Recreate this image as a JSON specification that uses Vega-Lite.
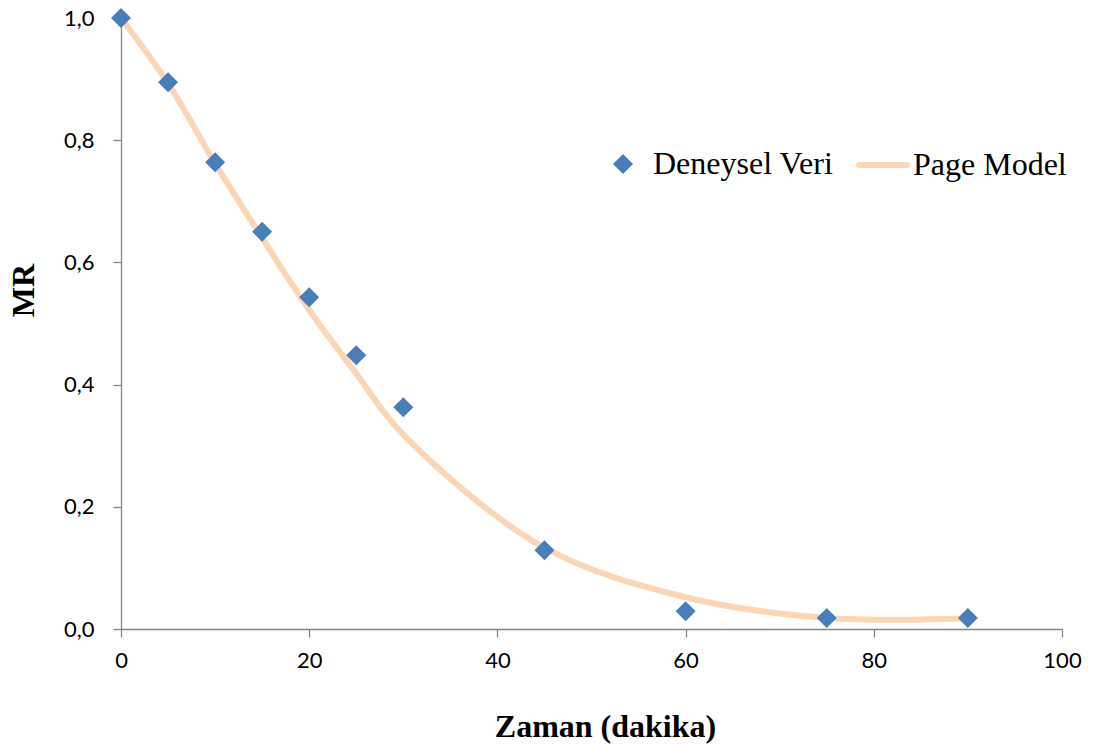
{
  "$schema": "https://vega.github.io/schema/vega-lite/v6.json",
  "width": 941,
  "height": 611,
  "autosize": {"type": "none"},
  "padding": {"left": 121, "top": 18, "right": 41, "bottom": 115},
  "background": "white",
  "config": {
    "view": {"stroke": null},
    "axis": {
      "grid": false,
      "domainColor": "#868686",
      "domainWidth": 1.3,
      "tickColor": "#868686",
      "tickWidth": 1.3,
      "tickSize": 8,
      "labelFont": "Lato",
      "labelFontSize": 22,
      "labelColor": "#000000",
      "labelFlush": false,
      "titleFont": "Liberation Serif",
      "titleFontWeight": "bold",
      "titleFontSize": 32,
      "titleColor": "#000000"
    }
  },
  "data": {
    "values": [
      {"zaman": 0, "mr": 1.0, "seri": "Deneysel Veri"},
      {"zaman": 5, "mr": 0.895, "seri": "Deneysel Veri"},
      {"zaman": 10, "mr": 0.764, "seri": "Deneysel Veri"},
      {"zaman": 15, "mr": 0.65, "seri": "Deneysel Veri"},
      {"zaman": 20, "mr": 0.543, "seri": "Deneysel Veri"},
      {"zaman": 25, "mr": 0.448, "seri": "Deneysel Veri"},
      {"zaman": 30, "mr": 0.363, "seri": "Deneysel Veri"},
      {"zaman": 45, "mr": 0.129, "seri": "Deneysel Veri"},
      {"zaman": 60, "mr": 0.029, "seri": "Deneysel Veri"},
      {"zaman": 75, "mr": 0.018, "seri": "Deneysel Veri"},
      {"zaman": 90, "mr": 0.018, "seri": "Deneysel Veri"},
      {"zaman": 0, "mr": 1.0, "seri": "Page Model"},
      {"zaman": 5, "mr": 0.893, "seri": "Page Model"},
      {"zaman": 10, "mr": 0.762, "seri": "Page Model"},
      {"zaman": 15, "mr": 0.64, "seri": "Page Model"},
      {"zaman": 20, "mr": 0.522, "seri": "Page Model"},
      {"zaman": 25, "mr": 0.418, "seri": "Page Model"},
      {"zaman": 30, "mr": 0.318, "seri": "Page Model"},
      {"zaman": 45, "mr": 0.133, "seri": "Page Model"},
      {"zaman": 60, "mr": 0.052, "seri": "Page Model"},
      {"zaman": 75, "mr": 0.018, "seri": "Page Model"},
      {"zaman": 90, "mr": 0.017, "seri": "Page Model"}
    ]
  },
  "encoding": {
    "x": {
      "field": "zaman",
      "type": "quantitative",
      "scale": {"domain": [0, 100], "nice": false, "zero": true},
      "axis": {
        "values": [0, 20, 40, 60, 80, 100],
        "title": "Zaman (dakika)",
        "labelPadding": 13,
        "titleX": 484,
        "titleY": 107,
        "titleBaseline": "alphabetic",
        "titleAnchor": null,
        "titleAlign": "center"
      }
    },
    "y": {
      "field": "mr",
      "type": "quantitative",
      "scale": {"domain": [0, 1], "nice": false},
      "axis": {
        "values": [0, 0.2, 0.4, 0.6, 0.8, 1.0],
        "labelExpr": "replace(format(datum.value, '.1f'), '.', ',')",
        "labelPadding": 19,
        "title": "MR",
        "titleX": -98,
        "titleY": 272,
        "titleAngle": -90,
        "titleAlign": "center",
        "titleBaseline": "middle",
        "titleAnchor": null
      }
    }
  },
  "layer": [
    {
      "transform": [{"filter": "datum.seri === 'Page Model'"}],
      "mark": {"type": "line", "interpolate": "catmull-rom", "strokeWidth": 6, "strokeCap": "round", "strokeJoin": "round"},
      "encoding": {
        "color": {
          "field": "seri",
          "type": "nominal",
          "scale": {"domain": ["Page Model"], "range": ["#FCD5B5"]},
          "legend": {
            "title": null,
            "orient": "none",
            "legendX": 735,
            "legendY": 120,
            "padding": 0,
            "symbolType": "stroke",
            "symbolSize": 2300,
            "symbolStrokeWidth": 6,
            "labelOffset": 3,
            "labelFont": "Liberation Serif",
            "labelFontSize": 32,
            "labelColor": "#000000",
            "labelLimit": 400,
            "encode": {"symbols": {"update": {"strokeCap": {"value": "round"}}}}
          }
        }
      }
    },
    {
      "transform": [{"filter": "datum.seri === 'Deneysel Veri'"}],
      "mark": {"type": "point", "shape": "diamond", "filled": true, "size": 400, "color": "#4A7EBB", "opacity": 1},
      "encoding": {
        "shape": {
          "field": "seri",
          "type": "nominal",
          "scale": {"domain": ["Deneysel Veri"], "range": ["diamond"]},
          "legend": {
            "title": null,
            "orient": "none",
            "legendX": 486,
            "legendY": 130,
            "padding": 0,
            "symbolSize": 400,
            "symbolFillColor": "#4A7EBB",
            "symbolStrokeWidth": 0,
            "symbolOpacity": 1,
            "labelOffset": 14,
            "labelFont": "Liberation Serif",
            "labelFontSize": 32,
            "labelColor": "#000000",
            "labelLimit": 400
          }
        }
      }
    }
  ]
}
